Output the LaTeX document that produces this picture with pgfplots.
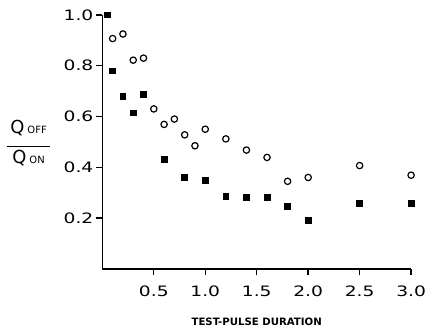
\documentclass[border=0pt]{standalone}
\usepackage{pgfplots}
\pgfplotsset{compat=1.18}
\usepackage{fontspec}
\setmainfont{DejaVu Sans}
\newfontfamily\tickfont[FakeStretch=1.3]{DejaVu Sans}
\begin{document}
\begin{tikzpicture}
\path (-50.5pt,-31pt) rectangle (168.5pt,135pt);
\begin{axis}[
  at={(0,0)}, anchor=origin,
  scale only axis, width=155pt, height=127.5pt,
  xmin=0, xmax=3, ymin=0, ymax=1,
  enlargelimits=false, clip=false,
  axis x line=bottom, axis y line=left,
  axis line style={-, line width=0.75pt},
  xtick={0.5,1.0,1.5,2.0,2.5,3.0},
  ytick={0.2,0.4,0.6,0.8,1.0},
  tick align=outside, major tick length=3pt,
  tick style={line width=0.7pt, black},
  /pgf/number format/.cd, fixed, fixed zerofill, precision=1, assume math mode=true,
  /pgfplots/.cd,
  ticklabel style={font=\tickfont\fontsize{7.2}{8}\selectfont},
  xticklabel style={anchor=north, yshift=-2pt},
  yticklabel style={anchor=east, xshift=2pt},
  xlabel={\fontsize{5.1}{6}\selectfont\bfseries TEST-PULSE DURATION},
  xlabel style={at={(axis description cs:0.5,-0.208)}, anchor=center},
  ylabel={\fontsize{9}{9}\selectfont\begin{tabular}{@{}c@{}}Q\,{\fontsize{5}{6}\selectfont OFF}\\[-2pt]\rule{22pt}{0.6pt}\\[-1pt]Q\,{\fontsize{5}{6}\selectfont ON}\end{tabular}},
  ylabel style={at={(axis description cs:-0.239,0.49)}, rotate=-90, anchor=center},
]
\addplot[only marks, mark=square*, mark size=1.45pt, black] coordinates {
(0.05,1.0) (0.1,0.78) (0.2,0.68) (0.3,0.614) (0.4,0.687) (0.6,0.43) (0.8,0.36)
(1.0,0.349) (1.2,0.285) (1.4,0.282) (1.6,0.282) (1.8,0.247) (2.0,0.19) (2.5,0.257) (3.0,0.257)};
\addplot[only marks, mark=o, mark size=1.6pt, black, mark options={line width=0.6pt}] coordinates {
(0.1,0.907) (0.2,0.925) (0.3,0.822) (0.4,0.83) (0.5,0.63) (0.6,0.569) (0.7,0.59)
(0.8,0.528) (0.9,0.485) (1.0,0.55) (1.2,0.512) (1.4,0.468) (1.6,0.439) (1.8,0.345)
(2.0,0.36) (2.5,0.407) (3.0,0.369)};
\end{axis}
\end{tikzpicture}
\end{document}
